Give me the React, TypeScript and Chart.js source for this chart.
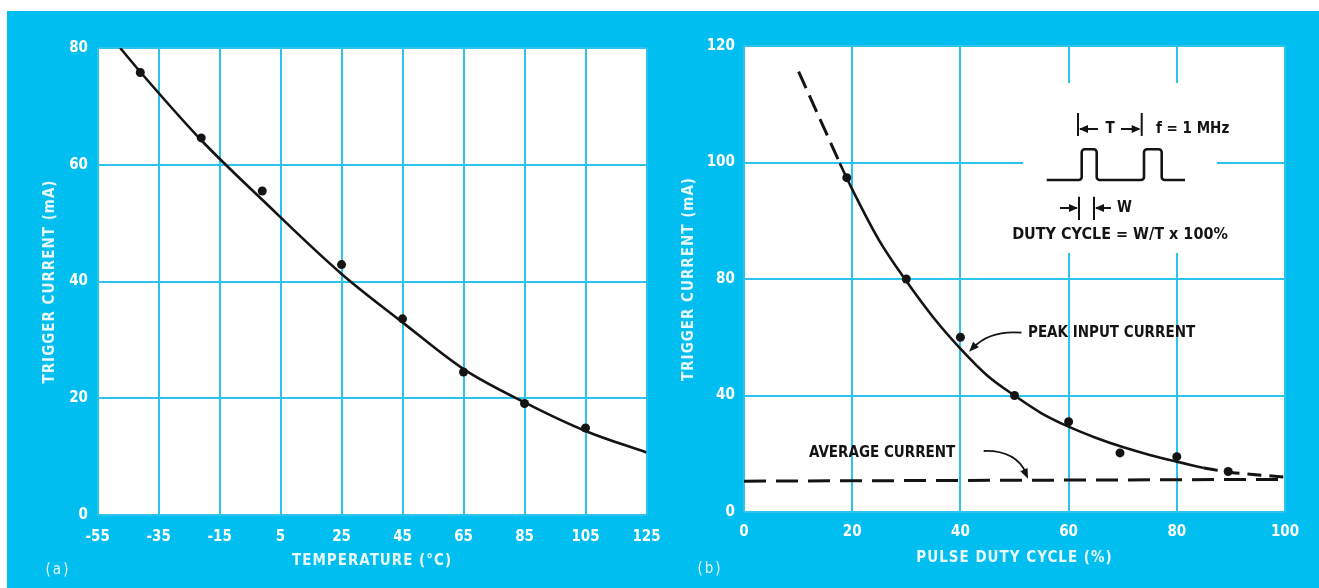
import React, { useEffect, useRef } from 'react';
import { Chart, registerables, LinearScale } from 'chart.js';

Chart.register(...registerables);

// ---------------- Panel (a): trigger current vs temperature ----------------
const tempTicks = [-55, -35, -15, 5, 25, 45, 65, 85, 105, 125];
const currentTicksA = [0, 20, 40, 60, 80];
const tempMeasured = [-41, -21, -1, 25, 45, 65, 85, 105];
const currentMeasuredA = [75.8, 64.6, 55.5, 42.9, 33.6, 24.5, 19.1, 14.9];
const tempCurve = [-47.6, -41, -21, -1, 25, 45, 65, 85, 105, 125];
const currentCurveA = [80, 75.9, 64.2, 54.0, 41.3, 33.0, 25.0, 19.3, 14.4, 10.7];

// ---------------- Panel (b): trigger current vs pulse duty cycle ----------------
const dutyTicks = [0, 20, 40, 60, 80, 100];
const currentTicksB = [0, 40, 80, 100, 120];
const dutyMeasured = [19, 30, 40, 50, 60, 69.5, 80, 89.5];
const currentMeasuredB = [97.4, 80, 60, 40, 31, 20.3, 19, 13.9];
const dutyPeakSolid = [17.7, 18.9, 20, 25, 30, 35, 40, 45, 50, 55, 60, 65, 70, 75, 80, 85];
const currentPeakSolid = [99.9, 97.5, 95.4, 86.6, 79.3, 66.8, 56.1, 46.8, 40.0, 33.9, 29.3, 25.5, 22.3, 19.6, 17.3, 15.1];
const dutyPeakHigh = [10.1, 17.7];
const currentPeakHigh = [115.6, 99.9];
const dutyPeakLow = [85, 90, 100];
const currentPeakLow = [15.1, 13.6, 12.0];
const dutyAverage = [0, 100];
const currentAverage = [10.6, 11.2];

const CYAN = '#00bff0';
const GRID = '#2cc3ec';
const INK = '#141414';
const FONT = '"DejaVu Sans Condensed", "Liberation Sans Narrow", "Roboto Condensed", "Noto Sans", sans-serif';

const pts = (xs: number[], ys: number[]) => xs.map((x, i) => ({ x, y: ys[i] }));

// Axis whose printed ticks (0, 40, 80, 100, 120) are equally spaced
class PiecewiseLinearScale extends LinearScale {
  static id = 'piecewise';
  static defaults = LinearScale.defaults;
  getPixelForValue(value: any) {
    if (value === null || value === undefined) return NaN;
    const bp = currentTicksB;
    const n = bp.length - 1;
    let i = 0;
    while (i < n - 1 && value > bp[i + 1]) i++;
    const dec = (i + (value - bp[i]) / (bp[i + 1] - bp[i])) / n;
    return this.getPixelForDecimal(dec);
  }
  getValueForPixel(pixel: number) {
    const bp = currentTicksB;
    const n = bp.length - 1;
    const d = this.getDecimalForPixel(pixel) * n;
    const i = Math.min(n - 1, Math.max(0, Math.floor(d)));
    return bp[i] + (d - i) * (bp[i + 1] - bp[i]);
  }
}
Chart.register(PiecewiseLinearScale as any);

function arrowHead(ctx: CanvasRenderingContext2D, x: number, y: number, angle: number, len = 9, half = 4) {
  ctx.save();
  ctx.translate(x, y);
  ctx.rotate(angle);
  ctx.beginPath();
  ctx.moveTo(0, 0);
  ctx.lineTo(-len, -half);
  ctx.lineTo(-len, half);
  ctx.closePath();
  ctx.fill();
  ctx.restore();
}

const plotBackground = {
  id: 'plotBackground',
  beforeDraw(chart: any) {
    const { ctx, chartArea: ca } = chart;
    ctx.save();
    ctx.fillStyle = '#ffffff';
    ctx.fillRect(ca.left, ca.top, ca.right - ca.left, ca.bottom - ca.top);
    ctx.restore();
    // axis titles are letter-spaced; tick labels (z: 1) are drawn later without spacing
    (ctx as any).letterSpacing = '1px';
  },
  beforeDatasetsDraw(chart: any) {
    (chart.ctx as any).letterSpacing = '0px';
  },
};

function panelLabel(text: string, x: number, y: number) {
  return {
    id: 'panelLabel' + text,
    afterDraw(chart: any) {
      const ctx = chart.ctx;
      ctx.save();
      ctx.font = `15px ${FONT}`;
      (ctx as any).letterSpacing = '2px';
      ctx.fillStyle = '#e4f7ff';
      ctx.textAlign = 'center';
      ctx.textBaseline = 'middle';
      ctx.fillText(text, x, y);
      ctx.restore();
    },
  };
}

const insetB = {
  id: 'insetB',
  beforeDatasetsDraw(chart: any) {
    const { ctx, chartArea: ca } = chart;
    const X = (d: number) => ca.left + d;
    const Y = (d: number) => ca.top + d;
    ctx.save();
    ctx.fillStyle = '#ffffff';
    ctx.fillRect(X(279), Y(37), 194, 170);

    ctx.strokeStyle = INK;
    ctx.fillStyle = INK;
    ctx.lineWidth = 2;
    // T marker
    ctx.beginPath();
    ctx.moveTo(X(334), Y(67)); ctx.lineTo(X(334), Y(90));
    ctx.moveTo(X(397.7), Y(67)); ctx.lineTo(X(397.7), Y(90));
    ctx.moveTo(X(336), Y(83)); ctx.lineTo(X(354), Y(83));
    ctx.moveTo(X(377), Y(83)); ctx.lineTo(X(395), Y(83));
    ctx.stroke();
    arrowHead(ctx, X(335), Y(83), Math.PI);
    arrowHead(ctx, X(396.7), Y(83), 0);
    // W marker
    ctx.beginPath();
    ctx.moveTo(X(335), Y(150.7)); ctx.lineTo(X(335), Y(174));
    ctx.moveTo(X(350), Y(150.7)); ctx.lineTo(X(350), Y(174));
    ctx.moveTo(X(316), Y(162)); ctx.lineTo(X(333), Y(162));
    ctx.moveTo(X(352), Y(162)); ctx.lineTo(X(367), Y(162));
    ctx.stroke();
    arrowHead(ctx, X(334), Y(162), 0);
    arrowHead(ctx, X(351), Y(162), Math.PI);
    // pulse train
    ctx.lineWidth = 2.6;
    ctx.lineJoin = 'round';
    const lo = Y(134), hi = Y(103.3), r = 3;
    ctx.beginPath();
    ctx.moveTo(X(302.7), lo);
    ctx.arcTo(X(337.7), lo, X(337.7), hi, r);
    ctx.arcTo(X(337.7), hi, X(352.7), hi, r);
    ctx.arcTo(X(352.7), hi, X(352.7), lo, r);
    ctx.arcTo(X(352.7), lo, X(400), lo, r);
    ctx.arcTo(X(400), lo, X(400), hi, r);
    ctx.arcTo(X(400), hi, X(417.7), hi, r);
    ctx.arcTo(X(417.7), hi, X(417.7), lo, r);
    ctx.arcTo(X(417.7), lo, X(441), lo, r);
    ctx.lineTo(X(441), lo);
    ctx.stroke();

    ctx.font = `bold 15px ${FONT}`;
    ctx.textBaseline = 'middle';
    ctx.textAlign = 'center';
    ctx.fillText('T', X(366), Y(83));
    ctx.textAlign = 'left';
    ctx.fillText('f = 1 MHz', X(412), Y(83));
    ctx.fillText('W', X(373), Y(162));
    ctx.textAlign = 'center';
    ctx.font = `bold 16px ${FONT}`;
    ctx.fillText('DUTY CYCLE = W/T x 100%', X(376), Y(189));
    ctx.restore();
  },
  afterDatasetsDraw(chart: any) {
    const { ctx, chartArea: ca, scales } = chart;
    const X = (d: number) => ca.left + d;
    const Y = (d: number) => ca.top + d;
    const xs = scales.x, ys = scales.y;
    ctx.save();
    ctx.fillStyle = INK;
    ctx.strokeStyle = INK;
    ctx.font = `bold 15px ${FONT}`;
    ctx.textAlign = 'left';
    ctx.textBaseline = 'middle';
    ctx.fillText('PEAK INPUT CURRENT', X(284), Y(286.7));
    ctx.fillText('AVERAGE CURRENT', X(65), Y(407));

    ctx.lineWidth = 1.8;
    // peak arrow
    const t1x = xs.getPixelForValue(41.6), t1y = ys.getPixelForValue(55);
    const c1x = X(246), c1y = Y(284);
    ctx.beginPath();
    ctx.moveTo(X(277.5), Y(286.7));
    ctx.quadraticCurveTo(c1x, c1y, t1x + 4, t1y - 4);
    ctx.stroke();
    arrowHead(ctx, t1x, t1y, Math.atan2(t1y - c1y, t1x - c1x), 10, 4);
    // average arrow
    const t2x = xs.getPixelForValue(52.5), t2y = ys.getPixelForValue(11.4);
    const c2x = X(271), c2y = Y(404);
    ctx.beginPath();
    ctx.moveTo(X(239.7), Y(405));
    ctx.quadraticCurveTo(c2x, c2y, t2x - 2, t2y - 6);
    ctx.stroke();
    arrowHead(ctx, t2x, t2y, Math.atan2(t2y - c2y, t2x - c2x), 10, 4);
    ctx.restore();
  },
};

const tickFont = { family: FONT, size: 15, weight: 'bold' as const };
const titleFont = { family: FONT, size: 15, weight: 'bold' as const };

const noPadX = (h: number) => (s: any) => { s.height = h; s.paddingLeft = 0; s.paddingRight = 0; };
const noPadY = (w: number) => (s: any) => { s.width = w; s.paddingTop = 0; s.paddingBottom = 0; };

function configA(): any {
  return {
    type: 'scatter',
    data: {
      datasets: [
        {
          data: pts(tempCurve, currentCurveA),
          showLine: true,
          borderColor: INK,
          borderWidth: 2.6,
          pointRadius: 0,
          cubicInterpolationMode: 'monotone',
        },
        {
          data: pts(tempMeasured, currentMeasuredA),
          showLine: false,
          pointRadius: 4.5,
          pointBackgroundColor: INK,
          pointBorderWidth: 0,
        },
      ],
    },
    options: {
      animation: false,
      responsive: false,
      devicePixelRatio: 1,
      layout: { padding: { left: 0, top: 48, right: 13.5, bottom: 0 } },
      plugins: { legend: { display: false }, tooltip: { enabled: false } },
      scales: {
        x: {
          type: 'linear',
          min: -55,
          max: 125,
          afterBuildTicks: (s: any) => { s.ticks = tempTicks.map((v) => ({ value: v })); },
          afterFit: noPadX(73),
          grid: { color: GRID, lineWidth: 2, drawTicks: false },
          border: { display: false },
          ticks: { color: '#ffffff', font: tickFont, padding: 12.7, maxRotation: 0, autoSkip: false, z: 1 },
          title: { display: true, text: 'TEMPERATURE (°C)', color: '#e8f8ff', font: titleFont, padding: { top: 0, bottom: 18.3 } },
        },
        y: {
          type: 'linear',
          min: 0,
          max: 80,
          afterBuildTicks: (s: any) => { s.ticks = currentTicksA.map((v) => ({ value: v })); },
          afterFit: noPadY(97.6),
          grid: { color: GRID, lineWidth: 2, drawTicks: false },
          border: { display: false },
          ticks: { color: '#ffffff', font: tickFont, padding: 9.6, z: 1 },
          title: { display: true, text: 'TRIGGER CURRENT (mA)', color: '#e8f8ff', font: titleFont, padding: { top: 41.5, bottom: 0 } },
        },
      },
    },
    plugins: [plotBackground, panelLabel('(a)', 58, 570)],
  };
}

function configB(): any {
  return {
    type: 'scatter',
    data: {
      datasets: [
        {
          data: pts(dutyAverage, currentAverage),
          showLine: true,
          borderColor: INK,
          borderWidth: 3,
          borderDash: [22, 10],
          pointRadius: 0,
        },
        {
          data: pts(dutyPeakHigh, currentPeakHigh),
          showLine: true,
          borderColor: INK,
          borderWidth: 3,
          borderDash: [18, 8],
          pointRadius: 0,
        },
        {
          data: pts(dutyPeakLow, currentPeakLow),
          showLine: true,
          borderColor: INK,
          borderWidth: 3,
          borderDash: [14, 8],
          pointRadius: 0,
          cubicInterpolationMode: 'monotone',
        },
        {
          data: pts(dutyPeakSolid, currentPeakSolid),
          showLine: true,
          borderColor: INK,
          borderWidth: 2.6,
          pointRadius: 0,
          cubicInterpolationMode: 'monotone',
        },
        {
          data: pts(dutyMeasured, currentMeasuredB),
          showLine: false,
          pointRadius: 4.5,
          pointBackgroundColor: INK,
          pointBorderWidth: 0,
        },
      ],
    },
    options: {
      animation: false,
      responsive: false,
      devicePixelRatio: 1,
      layout: { padding: { left: 0, top: 46, right: 34, bottom: 0 } },
      plugins: { legend: { display: false }, tooltip: { enabled: false } },
      scales: {
        x: {
          type: 'linear',
          min: 0,
          max: 100,
          afterBuildTicks: (s: any) => { s.ticks = dutyTicks.map((v) => ({ value: v })); },
          afterFit: noPadX(76),
          grid: { color: GRID, lineWidth: 2, drawTicks: false },
          border: { display: false },
          ticks: { color: '#ffffff', font: tickFont, padding: 11, maxRotation: 0, autoSkip: false, z: 1 },
          title: { display: true, text: 'PULSE DUTY CYCLE (%)', color: '#e8f8ff', font: titleFont, padding: { top: 0, bottom: 21 } },
        },
        y: {
          type: 'piecewise',
          min: 0,
          max: 120,
          afterBuildTicks: (s: any) => { s.ticks = currentTicksB.map((v) => ({ value: v })); },
          afterFit: noPadY(84),
          grid: { color: GRID, lineWidth: 2, drawTicks: false },
          border: { display: false },
          ticks: { color: '#ffffff', font: tickFont, padding: 9.2, z: 1 },
          title: { display: true, text: 'TRIGGER CURRENT (mA)', color: '#e8f8ff', font: titleFont, padding: { top: 20.4, bottom: 0 } },
        },
      },
    },
    plugins: [plotBackground, insetB, panelLabel('(b)', 50, 569)],
  };
}

export default function App() {
  const refA = useRef<HTMLCanvasElement>(null);
  const refB = useRef<HTMLCanvasElement>(null);
  useEffect(() => {
    const a = new Chart(refA.current as HTMLCanvasElement, configA());
    const b = new Chart(refB.current as HTMLCanvasElement, configB());
    return () => {
      a.destroy();
      b.destroy();
    };
  }, []);
  return (
    <div style={{ position: 'fixed', left: 0, top: 0, width: 1319, height: 588, background: '#ffffff', overflow: 'hidden' }}>
      <div style={{ position: 'absolute', left: 7, top: 11, width: 1312, height: 577, background: CYAN }} />
      <canvas ref={refA} width={660} height={588} style={{ position: 'absolute', left: 0, top: 0, width: 660, height: 588, display: 'block' }} />
      <canvas ref={refB} width={659} height={588} style={{ position: 'absolute', left: 660, top: 0, width: 659, height: 588, display: 'block' }} />
    </div>
  );
}
